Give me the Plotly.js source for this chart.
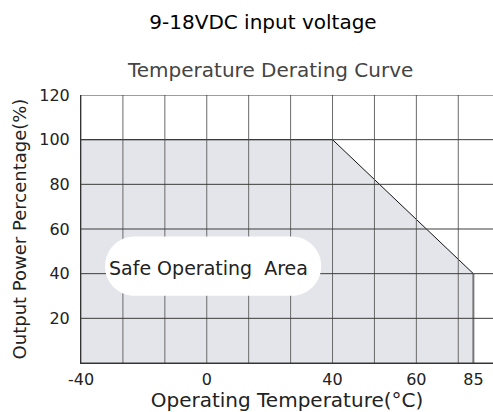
<!DOCTYPE html>
<html>
<head>
<meta charset="utf-8">
<script src="https://cdn.plot.ly/plotly-3.0.1.min.js"></script>
<style>html,body{margin:0;padding:0;background:#fff;}#chart{width:493px;height:412px;}</style>
</head>
<body>
<div id="chart"></div>
<script>
// ---- data ----
const temps = [-40, 40, 85];          // derating curve breakpoints (°C)
const power = [100, 100, 40];         // output power percentage (%)
const xTickTemps = [-40, 0, 40, 60, 85];
const xTickLabels = ['-40', '0', '40', '60', '85'];
const yTickVals = [0, 20, 40, 60, 80, 100, 120];
const yTickLabels = ['', '20', '40', '60', '80', '100', '120'];
const gridTemps = [-40, -26.67, -13.33, 0, 13.33, 26.67, 40, 50, 60, 70];
// the printed temperature scale is not uniform: breakpoints -> grid-cell position
const scaleTemps = [-40, 0, 40, 60, 70, 85];
const scalePos   = [0, 3, 6, 8, 9, 9.36];

function tpos(t){
  for (let i = 0; i < scaleTemps.length - 1; i++){
    const a = scaleTemps[i], b = scaleTemps[i+1];
    if (t <= b || i === scaleTemps.length - 2){
      return scalePos[i] + (t - a) / (b - a) * (scalePos[i+1] - scalePos[i]);
    }
  }
}

const FONT = 'DejaVu Sans, sans-serif';
const last = temps.length - 1;

const fillX = [temps[0]].concat(temps, [temps[last]]).map(tpos);
const fillY = [0].concat(power, [0]);

const traces = [
  { x: fillX, y: fillY, type: 'scatter', mode: 'lines', fill: 'toself',
    fillcolor: '#e4e5ea', line: {width: 0}, hoverinfo: 'skip', showlegend: false },
  { x: temps.map(tpos), y: power, type: 'scatter', mode: 'lines',
    line: {color: '#111', width: 1}, hoverinfo: 'skip', showlegend: false },
  { x: [tpos(temps[last]), tpos(temps[last])], y: [power[last], 0], type: 'scatter', mode: 'lines',
    line: {color: '#777', width: 2}, hoverinfo: 'skip', showlegend: false }
];

const shapes = [];
gridTemps.forEach(t => shapes.push({type: 'line', layer: 'above', xref: 'x', yref: 'y',
  x0: tpos(t), x1: tpos(t), y0: 0, y1: 120, line: {color: '#6a6a6a', width: 1}}));
yTickVals.forEach(v => shapes.push({type: 'line', layer: 'above', xref: 'paper', yref: 'y',
  x0: 0, x1: 1, y0: v, y1: v, line: {color: '#3c3c3c', width: 1}}));

// white "Safe Operating Area" blob (stadium shape)
(function(){
  const x0 = 0.573, x1 = 5.73, y0 = 30.1, y1 = 56.6;
  const yc = (y0 + y1) / 2, ry = (y1 - y0) / 2, rx = ry * 2.238 / 41.92, k = 0.5523;
  const f = v => v.toFixed(4);
  const pt = (x, y) => f(x) + ',' + f(y);
  const s = 'M ' + pt(x0 + rx, y1) +
    ' L ' + pt(x1 - rx, y1) +
    ' C ' + pt(x1 - rx + k*rx, y1) + ' ' + pt(x1, yc + k*ry) + ' ' + pt(x1, yc) +
    ' C ' + pt(x1, yc - k*ry) + ' ' + pt(x1 - rx + k*rx, y0) + ' ' + pt(x1 - rx, y0) +
    ' L ' + pt(x0 + rx, y0) +
    ' C ' + pt(x0 + rx - k*rx, y0) + ' ' + pt(x0, yc - k*ry) + ' ' + pt(x0, yc) +
    ' C ' + pt(x0, yc + k*ry) + ' ' + pt(x0 + rx - k*rx, y1) + ' ' + pt(x0 + rx, y1) + ' Z';
  shapes.push({type: 'path', layer: 'above', xref: 'x', yref: 'y', path: s,
    fillcolor: '#ffffff', line: {width: 0}});
})();

const layout = {
  width: 493, height: 412,
  margin: {l: 81, r: 0, t: 95, b: 49},
  paper_bgcolor: '#fff', plot_bgcolor: '#fff',
  font: {family: FONT, color: '#222', size: 16},
  title: {text: '9-18VDC input voltage', font: {family: FONT, size: 20, color: '#000'},
          x: 263/493, xanchor: 'center', xref: 'container', y: 1 - 22/412, yanchor: 'middle', yref: 'container'},
  xaxis: {
    range: [0, 412/41.92], showgrid: false, zeroline: false,
    showline: true, linecolor: '#333', linewidth: 1,
    tickmode: 'array', tickvals: xTickTemps.map(tpos), ticktext: xTickLabels,
    ticks: '', ticklabelstandoff: 2, tickfont: {family: FONT, size: 16, color: '#222'},
    title: {text: 'Operating Temperature(°C)', font: {family: FONT, size: 20, color: '#222'}, standoff: 8}
  },
  yaxis: {
    range: [0, 120], showgrid: false, zeroline: false,
    showline: true, linecolor: '#333', linewidth: 1,
    tickmode: 'array', tickvals: yTickVals, ticktext: yTickLabels,
    ticks: '', ticklabelstandoff: 7, tickfont: {family: FONT, size: 16, color: '#222'},
    title: {text: 'Output Power Percentage(%)', font: {family: FONT, size: 18, color: '#222'}, standoff: 7}
  },
  shapes: shapes,
  annotations: [
    {text: 'Temperature Derating Curve', xref: 'paper', yref: 'paper', x: (270-81)/412, y: (363-70)/268,
     xanchor: 'center', yanchor: 'middle', showarrow: false, font: {family: FONT, size: 20, color: '#444'}},
    {text: 'Safe Operating\u00a0 Area', xref: 'x', yref: 'y', x: 3.04, y: 42.6,
     xanchor: 'center', yanchor: 'middle', showarrow: false, font: {family: FONT, size: 19, color: '#222'}}
  ]
};

Plotly.newPlot('chart', traces, layout, {staticPlot: true, displayModeBar: false});
</script>
</body>
</html>
